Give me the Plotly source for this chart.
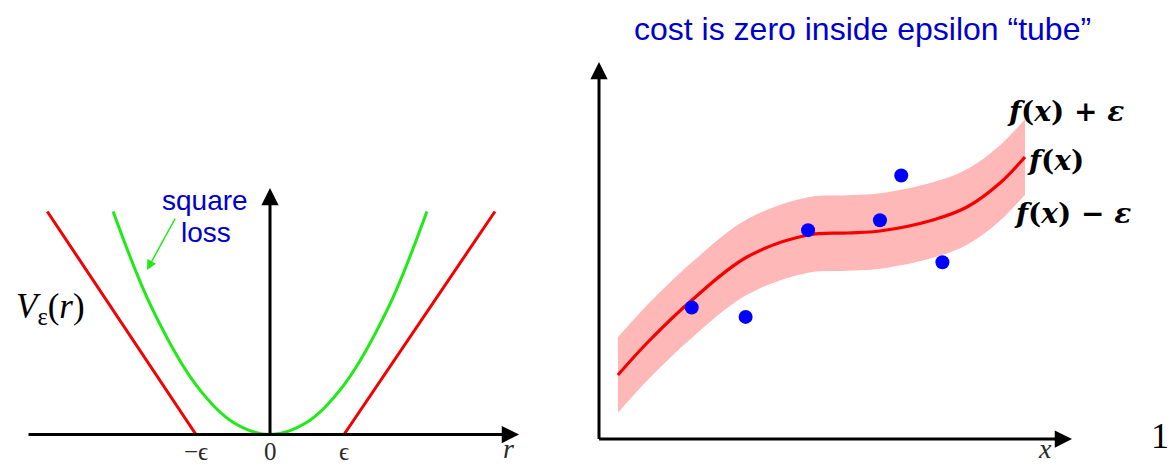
import plotly.graph_objects as go

W, H = 1171, 466

# ---------------- data: left panel (epsilon-insensitive loss) ----------------
eps_r = [-3.01, -1.0, 1.0, 3.04]
eps_loss = [2.0, 0.0, 0.0, 2.0]
sq_r = [-2.12, -1.6, -1.0, -0.5, 0.0, 0.5, 1.0, 1.6, 2.12]
sq_loss = [2.0, 1.14, 0.445, 0.11, 0.0, 0.11, 0.445, 1.14, 2.0]
tick_r = [-1.0, 0.0, 1.0]
tick_labels = ["−ϵ", "0", "ϵ"]

# ---------------- data: right panel (regression tube) ----------------
fx_x = [0.40, 1.015, 1.966, 3.129, 4.419, 5.243, 5.941, 7.061, 7.780, 8.478, 9.006]
fx_y = [1.357, 2.036, 2.948, 3.860, 4.327, 4.369, 4.411, 4.645, 4.920, 5.430, 5.981]
EPS = 0.8
pts_x = [1.96, 3.10, 4.42, 5.94, 6.39, 7.26]
pts_y = [2.79, 2.59, 4.43, 4.64, 5.59, 3.75]

tube_upper = [y + EPS for y in fx_y]
tube_lower = [y - EPS for y in fx_y]

RED = "rgb(245,0,0)"
GREEN = "rgb(30,235,20)"
BLUE_TXT = "rgb(0,0,205)"
PINK = "rgb(255,184,184)"

fig = go.Figure()

# left panel
fig.add_trace(go.Scatter(x=sq_r, y=sq_loss, mode="lines", line=dict(color=GREEN, width=3, shape="spline"),
                         xaxis="x", yaxis="y", hoverinfo="skip"))
fig.add_trace(go.Scatter(x=eps_r, y=eps_loss, mode="lines", line=dict(color=RED, width=3),
                         xaxis="x", yaxis="y", hoverinfo="skip"))

# right panel
fig.add_trace(go.Scatter(x=fx_x, y=tube_lower, mode="lines", line=dict(width=0, shape="spline"),
                         xaxis="x2", yaxis="y2", hoverinfo="skip"))
fig.add_trace(go.Scatter(x=fx_x, y=tube_upper, mode="lines", line=dict(width=0, shape="spline"),
                         fill="tonexty", fillcolor=PINK, xaxis="x2", yaxis="y2", hoverinfo="skip"))
fig.add_trace(go.Scatter(x=fx_x, y=fx_y, mode="lines", line=dict(color=RED, width=3.2, shape="spline"),
                         xaxis="x2", yaxis="y2", hoverinfo="skip"))
fig.add_trace(go.Scatter(x=pts_x, y=pts_y, mode="markers", marker=dict(color="rgb(0,0,255)", size=14),
                         xaxis="x2", yaxis="y2", hoverinfo="skip"))


def P(px, py):
    return px / W, 1 - py / H


ann = []
arrow_kw = dict(text="", showarrow=True, arrowhead=2, arrowsize=1.15, arrowwidth=3, arrowcolor="black", standoff=0)
# axis arrows, left panel
ann.append(dict(x=(519 - 270) / 74, y=0, ax=(27 - 270) / 74, ay=0, xref="x", yref="y", axref="x", ayref="y",
                **arrow_kw))
ann.append(dict(x=0, y=(434.5 - 188) / 111.5, ax=0, ay=0, xref="x", yref="y", axref="x", ayref="y", **arrow_kw))
# axis arrows, right panel
ann.append(dict(x=(1072 - 599) / 47.3, y=0, ax=-0.03, ay=0, xref="x2", yref="y2", axref="x2", ayref="y2",
                **arrow_kw))
ann.append(dict(x=0, y=(439 - 62) / 47.15, ax=0, ay=-0.03, xref="x2", yref="y2", axref="x2", ayref="y2",
                **arrow_kw))

# green pointer arrow
ann.append(dict(x=(147 - 270) / 74, y=(434.5 - 270) / 111.5, ax=(176 - 270) / 74, ay=(434.5 - 217) / 111.5,
                xref="x", yref="y", axref="x", ayref="y", text="", showarrow=True, arrowhead=2,
                arrowsize=1.3, arrowwidth=1.5, arrowcolor=GREEN, standoff=0))

serif = "Liberation Serif"


def label(px, py, text, family, size, color="black", xanchor="center", yanchor="middle"):
    x0, y0 = P(px, py)
    ann.append(dict(x=x0, y=y0, xref="paper", yref="paper", xanchor=xanchor, yanchor=yanchor,
                    text=text, showarrow=False, font=dict(family=family, size=size, color=color)))


# tick labels
for r, lab in zip(tick_r, tick_labels):
    label(270 + r * 74, 451, lab, serif, 25, "#2a2a2a")

label(508, 466, "<i>r</i>", serif, 28, "#2a2a2a", yanchor="bottom")
label(50, 308, "<i>V</i><sub>ε</sub>(<i>r</i>)", serif, 35)
label(205, 200, "square", "Liberation Sans", 28, BLUE_TXT)
label(206, 232, "loss", "Liberation Sans", 28, BLUE_TXT)

# title right
label(862, 29, "cost is zero inside epsilon “tube”", "Liberation Sans", 32, BLUE_TXT)

# right labels
label(1005, 112, "<b><i>f</i>(<i>x</i>) + <i>ε</i></b>", "DejaVu Serif", 28, xanchor="left")
label(1025, 160, "<b><i>f</i>(<i>x</i>)</b>", "DejaVu Serif", 28, xanchor="left")
label(1012, 213, "<b><i>f</i>(<i>x</i>) − <i>ε</i></b>", "DejaVu Serif", 28, xanchor="left")
label(1045, 466, "<i>x</i>", serif, 28, "#2a2a2a", yanchor="bottom")
label(1171, 436, "1", serif, 36, xanchor="right")

ax_common = dict(visible=False, showgrid=False, zeroline=False, fixedrange=True)
fig.update_layout(
    width=W, height=H, autosize=False,
    margin=dict(l=0, r=0, t=0, b=0, pad=0),
    paper_bgcolor="white", plot_bgcolor="rgba(0,0,0,0)",
    showlegend=False,
    xaxis=dict(domain=[0, 570 / W], range=[-270 / 74, 300 / 74], anchor="y", **ax_common),
    yaxis=dict(domain=[0, 1], range=[-31.5 / 111.5, 434.5 / 111.5], anchor="x", **ax_common),
    xaxis2=dict(domain=[570 / W, 1], range=[-29 / 47.3, 572 / 47.3], anchor="y2", **ax_common),
    yaxis2=dict(domain=[0, 1], range=[-27 / 47.15, 439 / 47.15], anchor="x2", **ax_common),
    annotations=ann,
)

fig.write_html("out.html", config={"displayModeBar": False},
               post_script="document.body.style.margin='0';document.body.style.overflow='hidden';")
